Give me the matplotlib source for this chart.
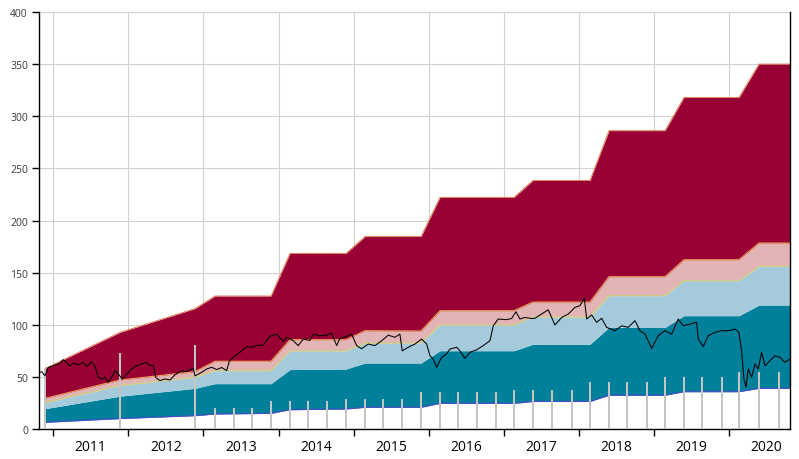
import matplotlib
matplotlib.use('Agg')
import matplotlib.pyplot as plt
from matplotlib.ticker import FixedLocator, NullFormatter

# holdings stack: dates (decimal years) where the layers change
stack_t = [2010.889, 2011.888, 2012.887, 2013.153, 2013.899, 2014.152, 2014.898,
           2015.151, 2015.897, 2016.150, 2017.135, 2017.388, 2018.147, 2018.400,
           2019.146, 2019.399, 2020.131, 2020.397, 2020.81]
# cumulative layer tops
base_top = [6.4, 10, 12.8, 14.4, 15, 18.5, 19.2, 20.8, 20.8, 24.6, 24.6, 26.4,
            26.4, 32.4, 32.4, 35.8, 35.8, 39, 39]
teal_top = [19.5, 31.5, 39, 43.5, 43.5, 57, 57.5, 63.3, 63.3, 75.1, 75.1, 81.3,
            81.3, 97.5, 97.5, 108.7, 108.7, 118.9, 118.9]
lblue_top = [25.3, 41.6, 49.6, 56, 56, 75, 75, 82.2, 82.6, 99.8, 99.8, 107.5,
             107.5, 127.9, 127.9, 142.3, 142.3, 156.1, 156.1]
pink_top = [29.4, 47, 55, 65, 65, 85.7, 85.7, 94.3, 94, 113.5, 113.5, 121.8,
            121.8, 146.1, 146.1, 162.4, 162.4, 178.4, 178.4]
crimson_top = [58, 92.7, 115.5, 127.6, 127.6, 168.5, 168.5, 184.6, 184.6, 222.2,
               222.2, 238.5, 238.5, 286.2, 286.2, 318.1, 318.1, 350.1, 350.1]

# dividend bars
div_t = [2010.889, 2011.888, 2012.887,
         2013.153, 2013.406, 2013.646,
         2013.899, 2014.152, 2014.392, 2014.645,
         2014.898, 2015.151, 2015.391, 2015.644,
         2015.897, 2016.150, 2016.389, 2016.642, 2016.895,
         2017.135, 2017.388, 2017.641, 2017.907,
         2018.147, 2018.400, 2018.639, 2018.906,
         2019.146, 2019.399, 2019.639, 2019.905,
         2020.131, 2020.397, 2020.664]
div_h = [58, 73, 80.6,
         20, 20, 20,
         27, 27, 27, 27,
         28.8, 28.8, 28.8, 28.8,
         35.2, 35.2, 35.2, 35.2, 35.2,
         37.4, 37.4, 37.4, 37.4,
         45, 45, 45, 45,
         49.6, 49.6, 49.6, 49.6,
         54.4, 54.4, 54.4]

# share price
price_t = [2010.823, 2010.846, 2010.889, 2010.933, 2011.023, 2011.089, 2011.133,
           2011.178, 2011.222, 2011.266, 2011.333, 2011.399, 2011.445, 2011.511,
           2011.555, 2011.599, 2011.644, 2011.688, 2011.732, 2011.778, 2011.822,
           2011.866, 2011.919, 2011.955, 2012.021, 2012.088, 2012.177, 2012.244,
           2012.288, 2012.332, 2012.364, 2012.421, 2012.487, 2012.554, 2012.621,
           2012.710, 2012.776, 2012.864, 2012.887, 2012.976, 2013.043, 2013.109,
           2013.176, 2013.242, 2013.309, 2013.344, 2013.397, 2013.486, 2013.575,
           2013.642, 2013.708, 2013.796, 2013.842, 2013.885, 2013.975, 2014.063,
           2014.108, 2014.196, 2014.262, 2014.329, 2014.418, 2014.462, 2014.551,
           2014.640, 2014.707, 2014.774, 2014.818, 2014.907, 2014.973, 2015.040,
           2015.106, 2015.194, 2015.284, 2015.373, 2015.461, 2015.550, 2015.616,
           2015.647, 2015.727, 2015.816, 2015.905, 2015.972, 2016.016, 2016.060,
           2016.105, 2016.172, 2016.238, 2016.282, 2016.372, 2016.415, 2016.482,
           2016.549, 2016.638, 2016.726, 2016.815, 2016.859, 2016.925, 2017.037,
           2017.104, 2017.161, 2017.214, 2017.281, 2017.370, 2017.414, 2017.503,
           2017.591, 2017.680, 2017.770, 2017.858, 2017.947, 2018.013, 2018.071,
           2018.103, 2018.169, 2018.236, 2018.302, 2018.369, 2018.479, 2018.569,
           2018.656, 2018.746, 2018.812, 2018.879, 2018.968, 2019.056, 2019.145,
           2019.234, 2019.322, 2019.389, 2019.478, 2019.567, 2019.589, 2019.655,
           2019.722, 2019.811, 2019.900, 2019.988, 2020.077, 2020.130, 2020.166,
           2020.197, 2020.224, 2020.254, 2020.299, 2020.344, 2020.387, 2020.433,
           2020.477, 2020.543, 2020.610, 2020.676, 2020.743, 2020.810]
price = [54.4, 55, 51, 59, 61.4, 63.3, 66.5,
         64, 60.1, 63.3, 61.4, 64, 60, 64.6,
         60, 49.6, 48, 49.6, 44.8, 49.6, 56,
         52.8, 48, 51, 56, 60.1, 62.4, 64,
         60.7, 61, 49.6, 46.4, 48, 47, 52,
         56, 55, 58.5, 51, 54.4, 57.6, 59.2,
         57, 59, 56, 65, 68.8, 73.6, 79,
         78.4, 80, 80.6, 84.7, 89, 91, 84,
         88, 84.7, 80, 86.3, 85, 91, 89.5,
         90, 92, 80, 87, 88.9, 91, 80,
         77, 81.5, 80, 84.7, 90, 88, 91,
         75, 78.4, 81.5, 86.3, 81.5, 70.3, 67.1,
         59.2, 68.8, 72, 76.7, 78.4, 75, 67.8,
         73.6, 76, 80, 84.7, 99, 105.5, 104.9,
         106, 112.5, 105.5, 107, 106, 106.2, 110.3,
         114.4, 99.8, 107, 110.3, 116.7, 118.3, 125.4,
         105.5, 109.4, 102.3, 106.2, 97.5, 94.3, 99,
         97.5, 103.9, 94.3, 91.1, 77.4, 89.5, 94.3,
         91, 105.5, 99, 100.7, 102.3, 86.3, 79,
         89.5, 92.7, 94.3, 94.3, 95.9, 92.7, 75.1,
         48, 40, 57.6, 49.6, 62.4, 57.6, 73.6,
         60.7, 65.5, 70.3, 68.8, 64, 67.1]

years = list(range(2011, 2021))

plt.rcParams['font.family'] = ['Open Sans', 'DejaVu Sans']

fig = plt.figure(figsize=(7.99, 4.6), dpi=100)
ax = fig.add_axes([0.0488, 0.0652, 0.9399, 0.9065])

ax.fill_between(stack_t, 0, base_top, color='white', lw=0)
ax.fill_between(stack_t, base_top, teal_top, color='#00809b', lw=0)
ax.fill_between(stack_t, teal_top, lblue_top, color='#a4cadb', lw=0)
ax.fill_between(stack_t, lblue_top, pink_top, color='#e3b4b6', lw=0)
ax.fill_between(stack_t, pink_top, crimson_top, color='#990033', lw=0)

ax.plot(stack_t, base_top, color='#4a48c8', lw=0.8)
ax.plot(stack_t, lblue_top, color='#c9d57c', lw=0.8)
ax.plot(stack_t, pink_top, color='#f0a45c', lw=0.8)
ax.plot(stack_t, crimson_top, color='#e2703c', lw=0.6)

ax.bar(div_t, div_h, width=0.035, color='#c4c4c4', zorder=3)
ax.plot(price_t, price, color='black', lw=0.75, zorder=4)

ax.set_xlim(2010.81, 2020.81)
ax.set_ylim(0, 400)
ax.set_yticks(range(0, 401, 50))
ax.xaxis.set_major_locator(FixedLocator(years))
ax.xaxis.set_major_formatter(NullFormatter())
ax.xaxis.set_minor_locator(FixedLocator([y + 0.5 for y in years]))
ax.set_xticklabels([str(y) for y in years], minor=True)
ax.tick_params(axis='x', which='minor', length=0, pad=7)
ax.tick_params(axis='x', which='major', length=5, width=1)
ax.tick_params(axis='y', length=5, width=1, pad=3)
ax.tick_params(labelsize=7.5, labelcolor='#3a3a3a')

ax.set_axisbelow(True)
ax.grid(True, which='major', color='#d0d0d0', lw=0.8)
ax.spines['top'].set_visible(False)
for s in ['left', 'bottom', 'right']:
    ax.spines[s].set_color('black')
    ax.spines[s].set_linewidth(1)

fig.savefig('out.png', dpi=100)
